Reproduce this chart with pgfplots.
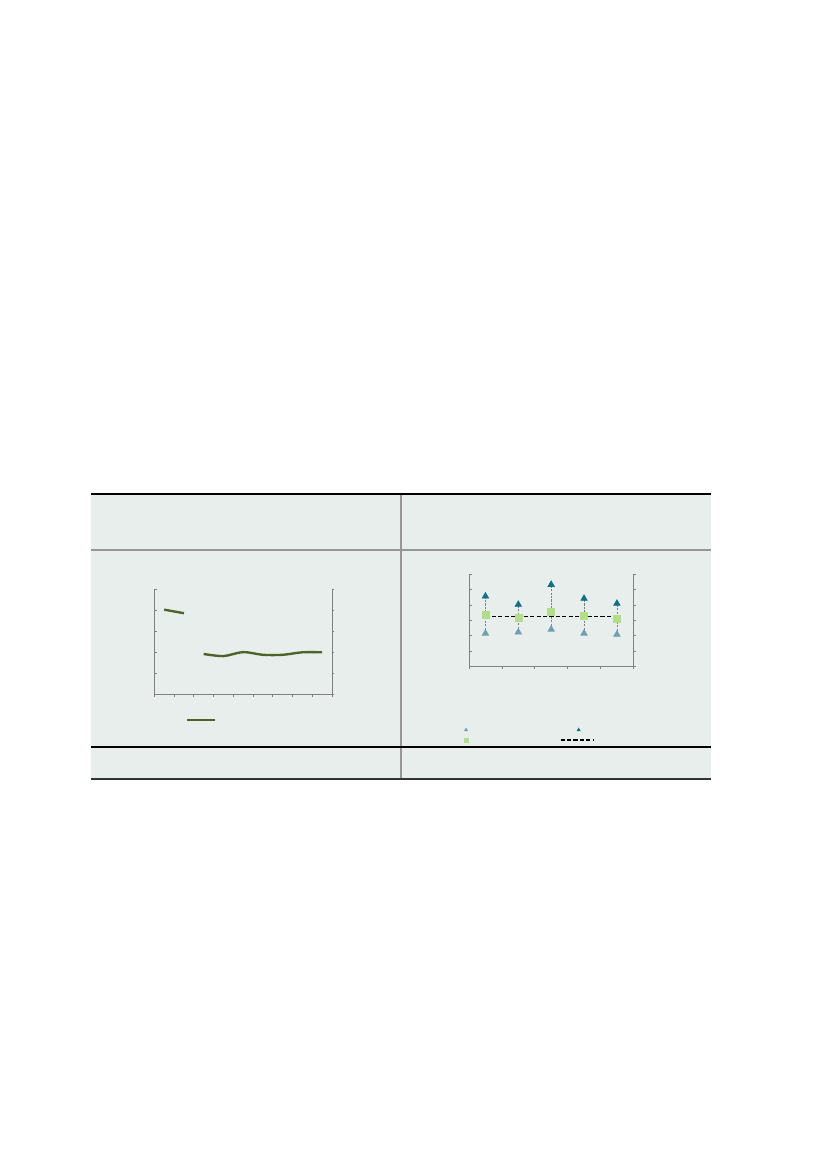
\documentclass[border=0pt]{standalone}
\usepackage{pgfplots}
\pgfplotsset{compat=1.18}

\definecolor{panelbg}{RGB}{232,238,236}
\definecolor{axgray}{RGB}{128,128,128}
\definecolor{divgray}{RGB}{150,150,150}
\definecolor{darkline}{RGB}{51,51,51}
\definecolor{olive}{RGB}{79,98,40}
\definecolor{darkteal}{RGB}{16,112,135}
\definecolor{lightteal}{RGB}{111,160,178}
\definecolor{lightgreen}{RGB}{178,222,140}

\pgfplotsset{
  panel/.style={scale only axis, anchor=south west, clip=false,
    axis line style={draw=axgray, line width=0.6pt},
    tick style={draw=axgray, line width=0.5pt},
    major tick length=1.8pt,
    xticklabels={}, yticklabels={},
    legend style={draw=none, fill=none, inner sep=0pt, outer sep=0pt,
      row sep=0pt, nodes={inner sep=0pt, minimum height=7.2pt}},
  },
  leftchart/.style={panel, at={(LA)}, width=127.9pt, height=75.6pt,
    xmin=0, xmax=9, ymin=0, ymax=5, xtick={0,...,9}, ytick={0,...,5}},
  rightchart/.style={panel, at={(RA)}, width=118.3pt, height=66.2pt,
    xmin=0, xmax=5, ymin=0, ymax=6, xtick={0,...,5}, ytick={0,...,6}},
  olivel/.style={olive, line width=1.7pt},
  hightri/.style={only marks, mark=triangle*, mark size=2.7pt,
    mark options={draw=darkteal, fill=darkteal}},
  lowtri/.style={only marks, mark=triangle*, mark size=2.7pt,
    mark options={draw=lightteal, fill=lightteal}},
  midsq/.style={only marks, mark=square*, mark size=2.5pt,
    mark options={draw=lightgreen, fill=lightgreen}},
  avgline/.style={black, line width=0.8pt, dash pattern=on 3pt off 1.6pt},
}

\begin{document}
\begin{tikzpicture}
\begin{scope}[x=0.7198pt, y=-0.7198pt]
  \path[use as bounding box] (0,0) rectangle (827,1170);
  \fill[white] (0,0) rectangle (827,1170);
  \fill[panelbg] (91,494) rectangle (711,779);
  \draw[divgray, line width=0.8pt] (401,494) -- (401,779);
  \draw[divgray, line width=0.8pt] (91,550) -- (711,550);
  \draw[black, line width=0.8pt] (91,747) -- (711,747);
  \draw[black, line width=1.5pt] (91,494) -- (711,494);
  \draw[darkline, line width=1.5pt] (91,779) -- (711,779);
  \coordinate (LA) at (154.3,694.3);
  \coordinate (RA) at (469,666.3);
\end{scope}

% left chart: data and bottom axis
\begin{axis}[leftchart, axis x line*=bottom, hide y axis, tick align=outside]
  \addplot[olivel] coordinates {(0.5,4.03) (1.5,3.86)};
  \addplot[olivel, smooth, tension=0.5] coordinates {(2.5,1.92) (3.5,1.82) (4.5,2.01)
    (5.5,1.88) (6.5,1.88) (7.5,2.0) (8.5,2.0)};
\end{axis}
\begin{axis}[leftchart, axis y line*=left, hide x axis, tick align=inside]
\end{axis}
\begin{axis}[leftchart, axis y line*=right, hide x axis, tick align=outside,
    legend style={at={(0.178,-0.242)}, anchor=west},
    legend image code/.code={\draw[#1] (0pt,0pt) -- (20.2pt,0pt);}]
  \addlegendimage{olivel}
  \addlegendentry{}
\end{axis}

% right chart: data and bottom axis
\begin{axis}[rightchart, axis x line*=bottom, hide y axis, tick align=outside,
    unbounded coords=jump]
  \addplot[axgray, line width=0.5pt, dash pattern=on 1.5pt off 1pt] coordinates {
    (0.5,2.15) (0.5,4.57) (0.5,nan)
    (1.5,2.23) (1.5,4.03) (1.5,nan)
    (2.5,2.41) (2.5,5.33) (2.5,nan)
    (3.5,2.15) (3.5,4.42) (3.5,nan)
    (4.5,2.08) (4.5,4.10)};
  \addplot[avgline] coordinates {(0.5,3.25) (4.5,3.25)};
  \addplot[lowtri] coordinates {(0.5,2.15) (1.5,2.23) (2.5,2.41) (3.5,2.15) (4.5,2.08)};
  \addplot[hightri] coordinates {(0.5,4.57) (1.5,4.03) (2.5,5.33) (3.5,4.42) (4.5,4.10)};
  \addplot[midsq] coordinates {(0.5,3.34) (1.5,3.14) (2.5,3.58) (3.5,3.29) (4.5,3.10)};
\end{axis}
\begin{axis}[rightchart, axis y line*=left, hide x axis, tick align=inside,
    legend style={at={(-0.030,-0.747)}, anchor=west},
    legend image code/.code={\draw[#1] plot coordinates {(0pt,0pt)};}]
  \addlegendimage{lowtri, mark size=1.35pt}
  \addlegendentry{}
  \addlegendimage{midsq, mark size=1.45pt}
  \addlegendentry{}
\end{axis}
\begin{axis}[rightchart, axis y line*=right, hide x axis, tick align=outside,
    legend style={at={(0.554,-0.747)}, anchor=west},
    legend image code/.code={\path (0pt,0pt) (23.8pt,0pt);
      \draw[mark repeat=2, mark phase=2, #1] plot coordinates {(0pt,0pt) (13pt,0pt) (23.8pt,0pt)};}]
  \addlegendimage{hightri, mark size=1.35pt}
  \addlegendentry{}
  \addlegendimage{avgline}
  \addlegendentry{}
\end{axis}
\end{tikzpicture}
\end{document}
